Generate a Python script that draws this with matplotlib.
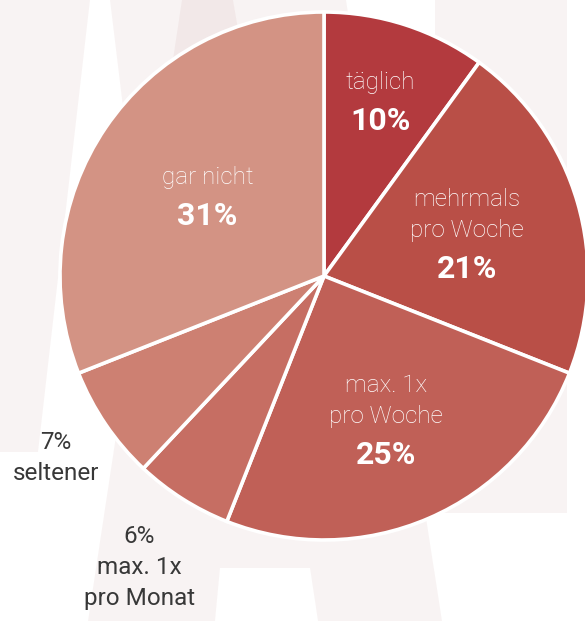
import numpy as np
import matplotlib
matplotlib.use("Agg")
import matplotlib.pyplot as plt
from matplotlib.patches import Polygon

# ---- data ----
categories = ["täglich", "mehrmals\npro Woche", "max. 1x\npro Woche",
              "max. 1x\npro Monat", "seltener", "gar nicht"]
values = [10, 21, 25, 6, 7, 31]
pct_labels = ["10%", "21%", "25%", "6%", "7%", "31%"]
colors = ["#b33a3e", "#b94f47", "#c06057", "#c66e63", "#cd8072", "#d39384"]
inside = [True, True, True, False, False, True]

W, H = 585, 621
fig = plt.figure(figsize=(W / 100, H / 100), dpi=100)
ax = fig.add_axes([0, 0, 1, 1])

def P(pts):
    return [(x, H - y) for x, y in pts]

# ---- faint watermark background ----
wm = (135 / 255, 35 / 255, 35 / 255)
shapes = [
    [(0, 0), (90, 0), (38, 452), (0, 452)],
    [(110, 0), (233, 0), (290, 330), (150, 330)],
    [(182, 0), (346, 0), (442, 621), (318, 621), (310, 568),
     (220, 568), (215, 621), (88, 621)],
    [(435, 0), (567, 0), (567, 513), (435, 513)],
]
for s in shapes:
    ax.add_patch(Polygon(P(s), closed=True, facecolor=wm, alpha=0.05,
                         edgecolor="none", zorder=0))

# ---- pie ----
cx, cy, R = 324, H - 276, 264
wedges, _ = ax.pie(values, colors=colors, startangle=90, counterclock=False,
                   center=(cx, cy), radius=R, frame=True,
                   wedgeprops=dict(edgecolor="white", linewidth=2.6))
ax.set_xlim(0, W)
ax.set_ylim(0, H)
ax.set_aspect("equal")
ax.axis("off")

FONT = ["Roboto", "DejaVu Sans"]

# ---- labels ----
label_r = [183, 149, 157, 345, 324, 141]
LH = 31      # line spacing (px)
PG = 39      # gap from last text line to bold percentage (px)
for w, cat, pct, ins, r in zip(wedges, categories, pct_labels, inside, label_r):
    ang = np.deg2rad((w.theta1 + w.theta2) / 2)
    x = cx + r * np.cos(ang)
    y = cy + r * np.sin(ang)
    lines = cat.split("\n")
    if ins:
        span = LH * (len(lines) - 1) + PG
        first = y + span / 2
        for i, line in enumerate(lines):
            ax.text(x, first - LH * i, line, ha="center", va="center",
                    color="white", fontsize=17.5, fontweight="light",
                    family=FONT)
        ax.text(x, first - span, pct, ha="center", va="center",
                color="white", fontsize=23, fontweight="bold", family=FONT)
    else:
        lines = [pct] + lines
        span = LH * (len(lines) - 1)
        first = y + span / 2
        for i, line in enumerate(lines):
            ax.text(x, first - LH * i, line, ha="center", va="center",
                    color="#383838", fontsize=17.5, fontweight="normal",
                    family=FONT)

fig.savefig("out.png", dpi=100)
